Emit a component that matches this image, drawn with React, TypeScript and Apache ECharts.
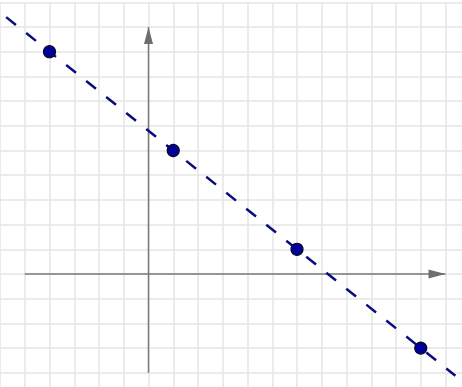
import React, { useEffect, useRef } from "react";
import * as echarts from "echarts";

// data
const pointX = [-4, 1, 6, 11];
const pointY = [9, 5, 1, -3];
const lineX = [-5.75, 12.4];
const lineY = [10.4, -4.12];
const xAxisExtent = [-5, 12];
const yAxisExtent = [-4, 10];
const xRange = [-6, 13];
const yRange = [-5, 10.99];

const UX = 24.75;
const UY = 24.7;
const ORIGIN = [148.5, 274];

export default function App() {
  const ref = useRef<HTMLDivElement>(null);
  useEffect(() => {
    if (!ref.current) return;
    const chart = echarts.init(ref.current, null, { renderer: "svg" });
    const gridLeft = ORIGIN[0] + xRange[0] * UX;
    const gridTop = ORIGIN[1] - yRange[1] * UY;
    const axisStyle = { color: "#7a7a7a", width: 1.5 };
    chart.setOption({
      animation: false,
      backgroundColor: "#ffffff",
      grid: {
        left: gridLeft,
        top: gridTop,
        width: (xRange[1] - xRange[0]) * UX,
        height: (yRange[1] - yRange[0]) * UY,
        show: false,
      },
      xAxis: {
        type: "value",
        min: xRange[0],
        max: xRange[1],
        interval: 1,
        axisLine: { show: false },
        axisTick: { show: false },
        axisLabel: { show: false },
        splitLine: { show: true, lineStyle: { color: "#e4e4e4", width: 1.5 } },
      },
      yAxis: {
        type: "value",
        min: yRange[0],
        max: yRange[1],
        interval: 1,
        axisLine: { show: false },
        axisTick: { show: false },
        axisLabel: { show: false },
        splitLine: { show: true, lineStyle: { color: "#e4e4e4", width: 1.5 } },
      },
      series: [
        {
          type: "line",
          data: [
            [xAxisExtent[0], 0],
            [xAxisExtent[1], 0],
          ],
          showSymbol: false,
          symbol: "none",
          lineStyle: axisStyle,
          silent: true,
          z: 2,
        },
        {
          type: "line",
          data: [
            [0, yAxisExtent[0]],
            [0, yAxisExtent[1]],
          ],
          showSymbol: false,
          symbol: "none",
          lineStyle: axisStyle,
          silent: true,
          z: 2,
        },
        {
          type: "scatter",
          data: [[xAxisExtent[1], 0]],
          symbol: "triangle",
          symbolSize: [9, 17],
          symbolRotate: -90,
          symbolOffset: [-8.5, 0],
          itemStyle: { color: "#6e6e6e", opacity: 1 },
          silent: true,
          z: 3,
        },
        {
          type: "scatter",
          data: [[0, yAxisExtent[1]]],
          symbol: "triangle",
          symbolSize: [9, 17],
          symbolOffset: [0, 8.5],
          itemStyle: { color: "#6e6e6e", opacity: 1 },
          silent: true,
          z: 3,
        },
        {
          type: "line",
          data: lineX.map((x, i) => [x, lineY[i]]),
          showSymbol: false,
          symbol: "none",
          lineStyle: { color: "#0b0b80", width: 2.5, type: [12.5, 13.1], cap: "butt" },
          silent: true,
          z: 4,
        },
        {
          type: "scatter",
          data: pointX.map((x, i) => [x, pointY[i]]),
          symbol: "circle",
          symbolSize: 12,
          itemStyle: { color: "#00009a", borderColor: "#0a0a28", borderWidth: 1.2, opacity: 1 },
          z: 5,
        },
      ],
    });
    return () => chart.dispose();
  }, []);
  return (
    <div
      style={{
        position: "fixed",
        left: 0,
        top: 0,
        width: 462,
        height: 387,
        overflow: "hidden",
        background: "#fff",
      }}
    >
      <div ref={ref} style={{ width: 500, height: 420 }} />
    </div>
  );
}
